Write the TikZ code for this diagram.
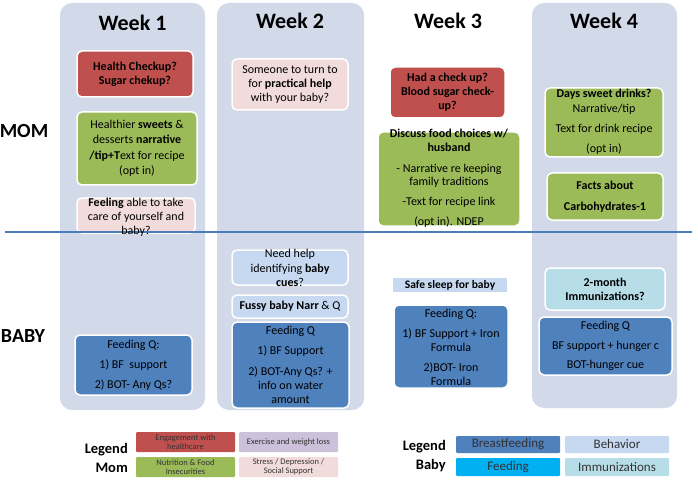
\documentclass[tikz,border=0pt]{standalone}
\usepackage{fontspec}
\setmainfont{Carlito}
\definecolor{colbg}{HTML}{D2D9E8}
\definecolor{cred}{HTML}{C0504D}
\definecolor{cgreen}{HTML}{9BBB59}
\definecolor{cpink}{HTML}{F2DCDB}
\definecolor{clav}{HTML}{CCC0DA}
\definecolor{cblue}{HTML}{4F81BD}
\definecolor{clblue}{HTML}{C6D9F1}
\definecolor{ccyanl}{HTML}{B7DEE8}
\definecolor{ccyan}{HTML}{00B0F0}
\definecolor{cline}{HTML}{4A7EBB}
\begin{document}
\begin{tikzpicture}[x=1pt,y=-1pt,
  col/.style={fill=colbg, draw=none, rounded corners=12pt, inner sep=0pt},
  box/.style={draw=white, line width=1.5pt, rounded corners=5pt, inner sep=0pt, align=center, text=black, font=\fontsize{12}{14}\selectfont},
  txt/.style={align=center, inner sep=0pt, text=black, font=\fontsize{12}{14}\selectfont},
  title/.style={font=\fontsize{22}{26}\selectfont\bfseries, inner sep=0pt},
  side/.style={font=\fontsize{20}{24}\selectfont\bfseries, inner sep=0pt},
  leg/.style={rounded corners=1pt, inner sep=0pt, align=center, text=black!80, font=\fontsize{8.5}{9}\selectfont},
  legb/.style={rounded corners=1pt, inner sep=0pt, align=center, text=black!80, font=\fontsize{13}{15}\selectfont},
  legt/.style={align=right, inner sep=0pt, font=\fontsize{14.5}{19}\selectfont\bfseries}
]
\useasboundingbox (0,0) rectangle (698,481);
% columns
\node[col, minimum width=145pt, minimum height=407pt] (c1) at (132.5,206.5) {};
\node[col, minimum width=147pt, minimum height=407pt] (c2) at (290.5,206.5) {};
\node[col, minimum width=145pt, minimum height=405pt] (c4) at (604.5,205.5) {};
% titles
\node[title] (t1) at (132.5,23) {Week 1};
\node[title] (t2) at (290,21) {Week 2};
\node[title] (t3) at (448,21) {Week 3};
\node[title] (t4) at (604,21) {Week 4};
% side labels
\node[side] (mom) at (24,131) {MOM};
\node[side] (baby) at (23,336) {BABY};
% week 1 mom
\node[box, fill=cred, minimum width=116pt, minimum height=46pt, font=\fontsize{12}{14}\selectfont\bfseries] (w1r) at (135,74) {Health Checkup?\\Sugar chekup?};
\node[box, fill=cgreen, minimum width=120pt, minimum height=73pt, font=\fontsize{12}{15.5}\selectfont] (w1g) at (137,148.5) {Healthier \textbf{sweets} \&\\desserts \textbf{narrative}\\\textbf{/tip+T}ext for recipe\\(opt in)};
\node[box, fill=cpink, minimum width=118pt, minimum height=35pt] (w1p) at (136,215.5) {};
% week 2 mom
\node[box, fill=cpink, minimum width=116pt, minimum height=51pt, font=\fontsize{12}{14.3}\selectfont] (w2p) at (290,84.5) {Someone to turn to\\for \textbf{practical help}\\with your baby?};
% week 3 mom
\node[box, fill=cred, minimum width=115pt, minimum height=51pt, font=\fontsize{12}{14}\selectfont\bfseries] (w3r) at (447.5,92.5) {Had a check up?\\Blood sugar check-\\up?};
\node[box, fill=cgreen, minimum width=142pt, minimum height=94pt] (w3g) at (449,179) {};
\node[txt, font=\fontsize{12}{13.3}\selectfont] (w3gt) at (449,178.5) {\textbf{Discuss food choices w/}\\\textbf{husband}\\[7.7pt]- Narrative re keeping\\family traditions\\[6.7pt]-Text for recipe link\\[6.7pt](opt in). NDEP};
% week 4 mom
\node[box, fill=cgreen, minimum width=118pt, minimum height=69pt] (w4g) at (604,122.5) {};
\node[txt, font=\fontsize{12}{15}\selectfont] (w4gt) at (604,122) {\textbf{Days sweet drinks?}\\Narrative/tip\\[5pt]Text for drink recipe\\[5pt](opt in)};
\node[box, fill=cgreen, minimum width=116pt, minimum height=47pt, font=\fontsize{12}{21}\selectfont\bfseries] (w4c) at (605,196.5) {Facts about\\Carbohydrates-1};
% divider
\coordinate (dl) at (5,232);
\coordinate (dr) at (692,232);
\draw[cline, line width=2.5pt] (dl) -- (dr);
\node[txt, font=\fontsize{12}{14}\selectfont] (w1pt) at (136,217.5) {\textbf{Feeling} able to take\\care of yourself and\\baby?};
% baby week 1
\node[box, fill=cblue, minimum width=117pt, minimum height=60pt, font=\fontsize{12}{20}\selectfont] (w1b) at (133.5,365) {Feeding Q:\\1) BF\ \ support\\2) BOT- Any Qs?};
% baby week 2
\node[box, fill=clblue, minimum width=116pt, minimum height=35pt] (w2l) at (290,267.5) {};
\node[txt, font=\fontsize{12}{14.5}\selectfont] (w2lt) at (290,268) {Need help\\identifying \textbf{baby}\\\textbf{cues}?};
\node[box, fill=clblue, minimum width=116pt, minimum height=23pt] (w2f) at (290,306.5) {\textbf{Fussy baby Narr} \& Q};
\node[box, fill=cblue, minimum width=117pt, minimum height=86pt] (w2b) at (290.5,365) {};
\node[txt, font=\fontsize{12}{14}\selectfont] (w2bt) at (290.5,364.5) {Feeding Q\\[6.5pt]1) BF Support\\[6.5pt]2) BOT-Any Qs? +\\info on water\\amount};
% baby week 3
\node[fill=clblue, minimum width=114pt, minimum height=14pt, inner sep=0pt, font=\fontsize{11.5}{13}\selectfont\bfseries] (w3s) at (450,285) {Safe sleep for baby};
\node[box, fill=cblue, minimum width=114pt, minimum height=83pt] (w3b) at (451,346.5) {};
\node[txt, font=\fontsize{12}{14}\selectfont] (w3bt) at (451,347.5) {Feeding Q:\\[6pt]1) BF Support + Iron\\Formula\\[6.5pt]2)BOT- Iron\\Formula};
% baby week 4
\node[box, fill=ccyanl, minimum width=120pt, minimum height=42pt, font=\fontsize{12}{14}\selectfont\bfseries] (w4i) at (605,289) {2-month\\Immunizations?};
\node[box, fill=cblue, minimum width=133pt, minimum height=58pt, font=\fontsize{12}{19.5}\selectfont] (w4b) at (605.5,346) {Feeding Q\\BF support + hunger c\\BOT-hunger cue};
% legend mom
\node[legt, anchor=east] (lm) at (128,457.5) {Legend\\Mom};
\node[leg, fill=cred, minimum width=99pt, minimum height=20pt] (lm1) at (185.5,442) {Engagement with\\healthcare};
\node[leg, fill=clav, minimum width=99pt, minimum height=20pt] (lm2) at (288.5,442) {Exercise and weight loss};
\node[leg, fill=cgreen, minimum width=99pt, minimum height=20pt] (lm3) at (185.5,467) {Nutrition \& Food\\Insecurities};
\node[leg, fill=cpink, minimum width=99pt, minimum height=20pt] (lm4) at (288.5,467) {Stress / Depression /\\Social Support};
% legend baby
\node[legt, anchor=east] (lb) at (446,456.5) {Legend\\Baby};
\node[legb, fill=cblue, minimum width=104pt, minimum height=17pt] (lb1) at (508,444.5) {Breastfeeding};
\node[legb, fill=clblue, minimum width=104pt, minimum height=17pt] (lb2) at (617,444.5) {Behavior};
\node[legb, fill=ccyan, minimum width=104pt, minimum height=18pt] (lb3) at (508,467) {Feeding};
\node[legb, fill=ccyanl, minimum width=104pt, minimum height=18pt] (lb4) at (617,467) {Immunizations};
\end{tikzpicture}
\end{document}
